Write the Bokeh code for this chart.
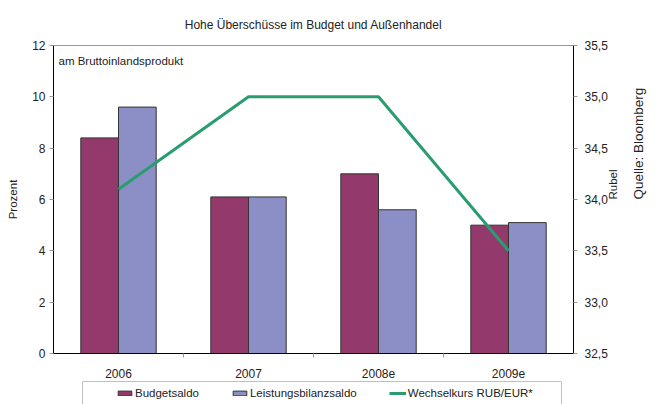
import math
from bokeh.plotting import figure
from bokeh.layouts import column
from bokeh.models import (Range1d, LinearAxis, FixedTicker, CustomJSTickFormatter,
                          Legend, LegendItem, Label)
from bokeh.embed import file_html
from bokeh.resources import INLINE

# ---- data ----
years = ["2006", "2007", "2008e", "2009e"]
budgetsaldo = [8.4, 6.1, 7.0, 5.0]
leistungsbilanzsaldo = [9.6, 6.1, 5.6, 5.1]
wechselkurs = [34.1, 35.0, 35.0, 33.5]
left_ticks = [0, 2, 4, 6, 8, 10, 12]
rub_ticks = [32.5, 33.0, 33.5, 34.0, 34.5, 35.0, 35.5]
series_names = ["Budgetsaldo", "Leistungsbilanzsaldo", "Wechselkurs RUB/EUR*"]
title_text = "Hohe Überschüsse im Budget und Außenhandel"

# ---- styling ----
FONT = "Liberation Sans"
C_BUD = "#93396b"
C_LEI = "#8c8fc6"
C_LINE = "#2a9d70"
TXT = "#222222"
BOX = "#c0c0c0"
BOX_X = (0.22, 3.91)   # legend frame edges, in x-axis units of the legend strip

n = len(years)
xpos = [i + 0.5 for i in range(n)]
off = 0.145
bw = 0.29

BL, BR = 53, 78


def bare_axis(**kw):
    ax = LinearAxis(ticker=FixedTicker(ticks=[]), **kw)
    ax.major_tick_in = 0
    ax.minor_tick_out = 0
    ax.minor_tick_in = 0
    ax.major_label_standoff = 0
    ax.axis_label_standoff = 0
    return ax


p = figure(width=656, height=381, x_range=Range1d(0, n), y_range=Range1d(0, 12),
           output_backend="svg", toolbar_location=None,
           min_border_left=BL, min_border_right=BR, min_border_top=45, min_border_bottom=28,
           background_fill_color="white", border_fill_color="white")
p.xgrid.visible = False
p.ygrid.visible = False
p.outline_line_color = "#999999"
p.outline_line_width = 1

p.title.text = title_text
p.title.align = "center"
p.title.text_font = FONT
p.title.text_font_size = "12px"
p.title.text_font_style = "normal"
p.title.text_color = TXT
p.title.offset = 5
p.title.standoff = 28

r_bud = p.vbar(x=[x - off for x in xpos], top=budgetsaldo, width=bw,
               fill_color=C_BUD, line_color="#333333", line_width=1)
r_lei = p.vbar(x=[x + off for x in xpos], top=leistungsbilanzsaldo, width=bw,
               fill_color=C_LEI, line_color="#333333", line_width=1)

p.extra_y_ranges = {"rub": Range1d(rub_ticks[0], rub_ticks[-1])}
r_line = p.line(x=xpos, y=wechselkurs, y_range_name="rub",
                line_color=C_LINE, line_width=3)

# bottom axis
xa = p.below[0]
xa.ticker = FixedTicker(ticks=xpos, minor_ticks=list(range(1, n)))
xa.formatter = CustomJSTickFormatter(args=dict(labels=years),
                                     code="return labels[Math.floor(tick)];")
xa.axis_line_color = "black"
xa.major_tick_line_color = None
xa.major_tick_out = 0
xa.major_tick_in = 0
xa.minor_tick_out = 4
xa.minor_tick_in = 0
xa.minor_tick_line_color = "#999999"
xa.major_label_standoff = 11
xa.major_label_text_font = FONT
xa.major_label_text_font_size = "12px"
xa.major_label_text_color = TXT

# left axis
ya = p.left[0]
ya.ticker = FixedTicker(ticks=left_ticks)
ya.axis_line_color = "black"
ya.major_tick_out = 4
ya.major_tick_in = 0
ya.major_tick_line_color = "#999999"
ya.minor_tick_line_color = None
ya.major_label_standoff = 4
ya.major_label_text_font = FONT
ya.major_label_text_font_size = "12px"
ya.major_label_text_color = TXT
ya.axis_label = "Prozent"
ya.axis_label_text_font = FONT
ya.axis_label_text_font_size = "11.5px"
ya.axis_label_text_font_style = "normal"
ya.axis_label_text_color = TXT
ya.axis_label_standoff = 10

# right axis (Rubel)
ra = LinearAxis(y_range_name="rub", ticker=FixedTicker(ticks=rub_ticks),
                formatter=CustomJSTickFormatter(code="return tick.toFixed(1).replace('.', ',');"))
ra.axis_line_color = "black"
ra.major_tick_out = 4
ra.major_tick_in = 0
ra.major_tick_line_color = "#999999"
ra.minor_tick_line_color = None
ra.major_label_standoff = 7
ra.major_label_text_font = FONT
ra.major_label_text_font_size = "12px"
ra.major_label_text_color = TXT
ra.axis_label = "Rubel"
ra.axis_label_orientation = math.pi / 2
ra.axis_label_text_font = FONT
ra.axis_label_text_font_size = "11.5px"
ra.axis_label_text_font_style = "normal"
ra.axis_label_text_color = TXT
ra.axis_label_standoff = 2
p.add_layout(ra, "right")

# source note as a label-only axis on the far right
qa = bare_axis(y_range_name="rub")
qa.axis_line_color = None
qa.major_tick_out = 0
qa.axis_label = "Quelle: Bloomberg"
qa.axis_label_orientation = math.pi / 2
qa.axis_label_text_font = FONT
qa.axis_label_text_font_size = "13.5px"
qa.axis_label_text_font_style = "normal"
qa.axis_label_text_color = TXT
qa.axis_label_standoff = 11
p.add_layout(qa, "right")

p.add_layout(Label(x=5, y=293, x_units="screen", y_units="screen",
                   text="am Bruttoinlandsprodukt", text_font=FONT, text_font_size="11.5px",
                   text_color=TXT, text_align="left", text_baseline="middle"))

# ---- legend strip (same frame borders as the chart) ----
p2 = figure(width=656, height=23, x_range=Range1d(0, n), y_range=Range1d(0, 12),
            output_backend="svg", toolbar_location=None,
            x_axis_location=None, y_axis_location=None,
            min_border_left=BL, min_border_right=BR, min_border_top=0, min_border_bottom=0,
            background_fill_color="white", border_fill_color="white")
p2.title_location = None
p2.xgrid.visible = False
p2.ygrid.visible = False
p2.outline_line_color = None
p2.extra_y_ranges = {"rub": Range1d(rub_ticks[0], rub_ticks[-1])}

# legend frame drawn with bare axis lines (top + two sides)
top_edge = bare_axis(bounds=BOX_X)
top_edge.axis_line_color = BOX
top_edge.major_tick_out = 0
p2.add_layout(top_edge, "above")
for xloc in BOX_X:
    side = bare_axis(fixed_location=xloc)
    side.axis_line_color = BOX
    side.major_tick_out = 0
    p2.add_layout(side, "left")

l_bud = p2.vbar(x=[x - off for x in xpos], top=budgetsaldo, width=bw, visible=False,
                fill_color=C_BUD, line_color="#333333", line_width=1)
l_lei = p2.vbar(x=[x + off for x in xpos], top=leistungsbilanzsaldo, width=bw, visible=False,
                fill_color=C_LEI, line_color="#333333", line_width=1)
l_line = p2.line(x=xpos, y=wechselkurs, y_range_name="rub", visible=False,
                 line_color=C_LINE, line_width=3)

legend = Legend(items=[LegendItem(label=series_names[0], renderers=[l_bud]),
                       LegendItem(label=series_names[1], renderers=[l_lei]),
                       LegendItem(label=series_names[2], renderers=[l_line])],
                orientation="horizontal", location=(63, 4),
                padding=0, margin=0, spacing=32, label_standoff=2,
                glyph_width=17, glyph_height=6, label_height=14,
                label_text_font=FONT, label_text_font_size="11.5px", label_text_color=TXT,
                inactive_fill_alpha=0,
                border_line_color=None, background_fill_alpha=0)
p2.add_layout(legend, "center")

layout = column(p, p2, spacing=0)
open("out.html", "w").write(file_html(layout, INLINE))
